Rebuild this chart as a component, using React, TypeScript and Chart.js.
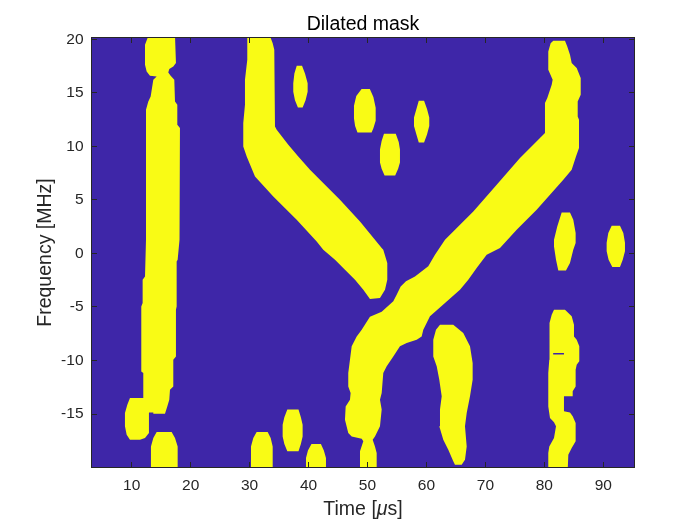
import { useEffect, useRef } from 'react';
import { Chart, registerables } from 'chart.js';

Chart.register(...registerables);

type Pt = [number, number];

// axis setup
const titleText = 'Dilated mask';
const yLabelText = 'Frequency [MHz]';
const xTicks = [10, 20, 30, 40, 50, 60, 70, 80, 90];
const yTicks = [-15, -10, -5, 0, 5, 10, 15, 20];
const xLimits: [number, number] = [3.27, 95.21];
const yLimits: [number, number] = [-19.95, 20.12];

// mask regions (outlines in Time [us] / Frequency [MHz])
const leftStrip: Pt[] = [
  [12.82, 20.3], [17.35, 20.3], [17.51, 19.64], [17.51, 17.78], [17.06, 17.46], [16.38, 17.22],
  [16.21, 16.9], [16.61, 16.59], [17.23, 16.22], [17.35, 14.19], [17.74, 13.88], [17.74, 12.02],
  [18.19, 11.71], [18.19, 7.51], [18.08, 7.19], [18.08, 1.28], [17.8, -0.59], [17.63, -0.75],
  [17.63, -4.95], [17.51, -5.26], [17.51, -9.62], [17.06, -9.93], [17.06, -12.42], [16.5, -12.73],
  [16.38, -13.66], [16.04, -14.29], [15.65, -14.97], [13.67, -14.97], [13.67, -14.85], [12.93, -14.85],
  [12.93, -16.77], [12.26, -17.24], [11.41, -17.4], [9.71, -17.4], [9.15, -16.93], [8.86, -16.15],
  [8.86, -14.9], [9.26, -14.13], [9.71, -13.5], [11.97, -13.5], [11.97, -11.17], [11.63, -11.02],
  [11.63, -4.95], [11.86, -4.63], [11.86, -2.45], [12.26, -2.15], [12.43, 1.28], [12.43, 13.41],
  [12.82, 14.19], [13.22, 14.66], [13.67, 16.22], [14.24, 16.53], [13.1, 16.59], [12.54, 16.99],
  [12.26, 17.62], [12.26, 19.49],
];
const blobBottom15: Pt[] = [
  [14.24, -16.67], [16.78, -16.67], [17.35, -17.24], [17.8, -18.03], [17.8, -20.3],
  [13.27, -20.3], [13.27, -18.03], [13.67, -17.24],
];
const blobBottom31: Pt[] = [
  [31.2, -16.67], [33.07, -16.67], [33.58, -17.24], [33.92, -18.03], [33.92, -20.3],
  [30.24, -20.3], [30.24, -18.03], [30.63, -17.24],
];
const leftDiagonal: Pt[] = [
  [29.61, 20.3], [33.46, 20.3], [33.92, 19.64], [34.19, 19.02], [34.31, 11.86], [34.6, 11.55],
  [36.57, 10.15], [38.26, 9.06], [40.25, 7.82], [41.94, 6.88], [45.33, 5.01], [48.73, 2.99],
  [52.41, 0.5], [52.68, 0.35], [53.36, -0.9], [53.36, -2.46], [52.97, -3.39], [52.12, -4.16],
  [50.42, -4.26], [49.29, -3.39], [47.88, -2.46], [46.18, -1.52], [44.49, -0.59], [42.5, 0.35],
  [41.38, 1.12], [37.99, 3.15], [34.02, 5.32], [30.92, 7.19], [29.51, 9.06], [28.93, 9.99],
  [28.93, 12.18], [29.22, 13.88], [29.22, 16.22], [29.61, 18.09],
];
const rightDiagonal: Pt[] = [
  [81.52, 19.86], [83.5, 19.86], [83.89, 19.33], [84.35, 18.55], [84.64, 17.78], [85.49, 17.31],
  [86.17, 16.38], [86.17, 14.82], [85.66, 14.19], [85.66, 12.79], [85.88, 12.48], [85.88, 9.84],
  [85.37, 9.06], [84.64, 7.82], [83.22, 6.88], [80.96, 5.48], [78.7, 4.08], [75.31, 2.21],
  [72.48, 0.5], [70.22, -0.12], [68.52, -1.37], [67.1, -2.46], [65.69, -3.39], [63.15, -4.63],
  [60.6, -5.88], [59.47, -7.12], [59.19, -7.75], [58.35, -8.06], [56.65, -8.37], [55.51, -8.68],
  [54.38, -9.62], [53.26, -10.55], [52.68, -11.17], [52.41, -13.04], [52.12, -13.66], [52.41, -14.59],
  [52.12, -16.15], [51.27, -17.09], [50.88, -17.4], [51.27, -18.03], [51.56, -18.65], [51.56, -20.3],
  [48.73, -20.3], [48.73, -18.49], [49.29, -17.55], [49.02, -17.3], [47.32, -17.09], [46.74, -16.77],
  [46.18, -15.53], [46.3, -14.29], [47.03, -13.66], [47.14, -13.04], [46.74, -12.42], [46.74, -11.17],
  [47.03, -9.93], [47.32, -8.68], [48.17, -7.75], [49.02, -7.12], [50.42, -5.91], [52.41, -5.44],
  [54.38, -4.48], [54.95, -3.86], [55.63, -3.08], [56.53, -2.61], [58.06, -2.15], [60.31, -1.21],
  [61.45, -0.12], [63.15, 1.28], [64.55, 2.05], [67.95, 3.92], [71.92, 6.41], [75.87, 8.91],
  [79.26, 10.77], [80.11, 11.24], [80.11, 14.04], [80.5, 14.51], [81.25, 15.75], [81.41, 16.22],
  [80.67, 17.15], [80.67, 18.86], [81.07, 19.64],
];
const blob64: Pt[] = [
  [62.3, -6.66], [64.55, -6.66], [66.25, -7.44], [67.39, -8.68], [67.84, -10.23], [67.84, -11.79],
  [67.39, -13.35], [66.83, -14.9], [66.54, -16.15], [66.83, -18.03], [66.54, -19.27], [65.98, -19.73],
  [64.84, -19.73], [64.55, -19.42], [63.71, -18.33], [62.86, -17.4], [62.18, -16.15], [62.3, -14.59],
  [62.59, -13.35], [62.18, -11.79], [61.74, -10.55], [61.16, -9.62], [61.16, -8.06], [61.62, -7.12],
];
const blob83: Pt[] = [
  [82.94, 3.83], [84.35, 3.83], [84.91, 3.15], [85.31, 1.9], [85.31, 0.97], [84.91, 0.35],
  [84.35, -0.9], [83.67, -1.59], [82.37, -1.59], [81.98, -0.59], [81.64, 0.65], [81.64, 1.28],
  [82.19, 2.52],
];
const blob92: Pt[] = [
  [91.42, 2.59], [92.83, 2.59], [93.4, 1.9], [93.68, 1.0], [93.68, 0.2], [93.3, -0.6],
  [92.83, -1.27], [91.53, -1.27], [90.9, -0.6], [90.57, 0.2], [90.57, 1.0], [90.85, 1.9],
];
const column83: Pt[] = [
  [81.64, -5.26], [83.5, -5.26], [84.64, -5.88], [85.03, -6.66], [85.03, -7.75], [85.49, -8.06],
  [85.93, -8.68], [85.93, -10.08], [85.49, -10.39], [85.31, -10.86], [85.31, -12.42], [84.81, -12.88],
  [84.81, -13.35], [83.33, -13.35], [83.33, -14.75], [84.35, -14.85], [84.81, -15.22], [85.31, -15.84],
  [85.31, -17.55], [84.64, -18.18], [84.07, -18.8], [83.96, -20.3], [80.67, -20.3], [80.67, -18.65],
  [80.84, -18.03], [81.64, -17.24], [81.98, -16.15], [81.64, -15.78], [80.96, -15.37], [80.67, -14.29],
  [80.67, -11.17], [80.84, -9.93], [80.96, -9.0], [80.84, -8.06], [80.84, -6.5], [81.25, -5.72],
];
const blob38a: Pt[] = [
  [38.0, 17.53], [38.9, 17.53], [39.4, 16.8], [39.85, 15.9], [39.85, 15.1], [39.5, 14.3],
  [39.0, 13.63], [38.2, 13.63], [37.7, 14.3], [37.41, 15.1], [37.41, 15.9], [37.6, 16.8],
];
const blob49: Pt[] = [
  [49.0, 15.35], [50.4, 15.35], [51.0, 14.6], [51.39, 13.6], [51.39, 12.4], [51.0, 11.7],
  [50.7, 11.3], [48.3, 11.3], [47.9, 11.9], [47.71, 12.6], [47.71, 13.8], [48.1, 14.7],
];
const blob54: Pt[] = [
  [52.8, 11.18], [54.8, 11.18], [55.3, 10.4], [55.51, 9.7], [55.51, 8.5], [55.2, 7.9],
  [54.7, 7.28], [52.9, 7.28], [52.4, 7.9], [52.12, 8.5], [52.12, 9.7], [52.4, 10.5],
];
const blob59: Pt[] = [
  [58.7, 14.26], [59.6, 14.26], [60.1, 13.5], [60.48, 12.7], [60.48, 11.9], [60.1, 11.1],
  [59.6, 10.36], [58.7, 10.36], [58.3, 11.1], [57.89, 11.9], [57.89, 12.7], [58.3, 13.5],
];
const blob37b: Pt[] = [
  [36.4, -14.59], [38.3, -14.59], [38.7, -15.3], [39.0, -16.0], [39.0, -17.1], [38.7, -17.8],
  [38.3, -18.49], [36.4, -18.49], [35.9, -17.8], [35.61, -17.1], [35.61, -16.0], [35.9, -15.3],
];
const blob41: Pt[] = [
  [40.5, -17.8], [42.1, -17.8], [42.6, -18.4], [42.96, -19.1], [42.96, -20.3], [39.57, -20.3],
  [39.57, -19.1], [39.9, -18.4],
];
const gapLine: Pt[] = [[81.5, -9.3], [83.33, -9.3], [83.33, -9.45], [81.5, -9.45]];

const yellowRegions: Pt[][] = [
  leftStrip, blobBottom15, blobBottom31, leftDiagonal, rightDiagonal, blob64, blob83, blob92,
  column83, blob38a, blob49, blob54, blob59, blob37b, blob41,
];

const BLUE = '#3e26a8';
const YELLOW = '#f9fb15';
const INK = '#262626';
const FAMILY = "'Liberation Sans', Arial, Helvetica, sans-serif";

const toXY = (pts: Pt[]) => pts.map(([x, y]) => ({ x, y }));

const region = (pts: Pt[], color: string) => ({
  data: toXY(pts),
  backgroundColor: color,
  borderColor: color,
  borderWidth: 0,
  pointRadius: 0,
  pointHoverRadius: 0,
  tension: 0,
  fill: 'shape' as const,
});

const imagePlugin = {
  id: 'imageBackground',
  beforeDatasetsDraw(chart: any) {
    const { ctx, chartArea } = chart;
    ctx.save();
    ctx.fillStyle = BLUE;
    ctx.fillRect(chartArea.left, chartArea.top, chartArea.right - chartArea.left, chartArea.bottom - chartArea.top);
    ctx.restore();
  },
};

const framePlugin = {
  id: 'matlabFrame',
  afterDatasetsDraw(chart: any) {
    const { ctx, chartArea } = chart;
    const { left, right, top, bottom } = chartArea;
    const xs = chart.scales.x;
    const ys = chart.scales.y;
    const len = 5;
    ctx.save();
    ctx.strokeStyle = INK;
    ctx.lineWidth = 1;
    ctx.beginPath();
    xTicks.forEach((v) => {
      const p = Math.floor(xs.getPixelForValue(v)) + 0.5;
      ctx.moveTo(p, bottom);
      ctx.lineTo(p, bottom - len);
      ctx.moveTo(p, top);
      ctx.lineTo(p, top + len);
    });
    yTicks.forEach((v) => {
      const p = Math.floor(ys.getPixelForValue(v)) + 0.5;
      ctx.moveTo(left, p);
      ctx.lineTo(left + len, p);
      ctx.moveTo(right, p);
      ctx.lineTo(right - len, p);
    });
    ctx.stroke();
    ctx.strokeRect(left - 0.5, top - 0.5, right - left + 1, bottom - top + 1);
    ctx.restore();
  },
};

const textPlugin = {
  id: 'matlabText',
  afterDraw(chart: any) {
    const { ctx, chartArea } = chart;
    const cx = (chartArea.left + chartArea.right) / 2;
    ctx.save();
    // title
    ctx.font = `19.5px ${FAMILY}`;
    ctx.fillStyle = '#000000';
    ctx.textAlign = 'center';
    ctx.textBaseline = 'middle';
    ctx.fillText(titleText, cx, chartArea.top - 13.3);
    // x label with italic mu
    const normal = `19.5px ${FAMILY}`;
    const italic = `italic 19.5px ${FAMILY}`;
    const parts: [string, string][] = [['Time [', normal], ['\u03bc', italic], ['s]', normal]];
    let total = 0;
    const widths = parts.map(([t, f]) => {
      ctx.font = f;
      const w = ctx.measureText(t).width;
      total += w;
      return w;
    });
    let x = cx - total / 2;
    const y = chart.height - 10;
    ctx.fillStyle = INK;
    ctx.textBaseline = 'alphabetic';
    ctx.textAlign = 'left';
    parts.forEach(([t, f], i) => {
      ctx.font = f;
      ctx.fillText(t, x, y);
      x += widths[i];
    });
    ctx.restore();
  },
};

export default function App() {
  const canvasRef = useRef<HTMLCanvasElement | null>(null);

  useEffect(() => {
    const canvas = canvasRef.current;
    if (!canvas) return;
    const chart = new Chart(canvas, {
      type: 'line',
      data: {
        datasets: [region(gapLine, BLUE), ...yellowRegions.map((r) => region(r, YELLOW))],
      } as any,
      options: {
        responsive: false,
        animation: false,
        events: [],
        layout: { padding: { left: 0, right: 66, top: 38, bottom: 0 } },
        plugins: {
          legend: { display: false },
          tooltip: { enabled: false },
          title: { display: false },
        },
        scales: {
          x: {
            type: 'linear',
            min: xLimits[0],
            max: xLimits[1],
            grid: { display: false, drawTicks: false },
            border: { display: false },
            afterBuildTicks: (axis: any) => {
              axis.ticks = xTicks.map((value) => ({ value }));
            },
            afterFit: (axis: any) => {
              axis.height = 58;
            },
            ticks: {
              autoSkip: false,
              maxRotation: 0,
              padding: 9.5,
              color: INK,
              font: { family: FAMILY, size: 15.5 },
              callback: (v: any) => String(v),
            },
          },
          y: {
            type: 'linear',
            min: yLimits[0],
            max: yLimits[1],
            grid: { display: false, drawTicks: false },
            border: { display: false },
            afterBuildTicks: (axis: any) => {
              axis.ticks = yTicks.map((value) => ({ value }));
            },
            afterFit: (axis: any) => {
              axis.width = 92;
            },
            title: {
              display: true,
              text: yLabelText,
              color: INK,
              font: { family: FAMILY, size: 19.5, lineHeight: '24px' },
              padding: { top: 33.3, bottom: 0 },
            },
            ticks: {
              autoSkip: false,
              padding: 8.5,
              color: INK,
              font: { family: FAMILY, size: 15.5 },
              callback: (v: any) => String(v),
            },
          },
        },
      } as any,
      plugins: [imagePlugin, framePlugin, textPlugin],
    });
    return () => chart.destroy();
  }, []);

  return (
    <div style={{ position: 'absolute', left: 0, top: 0, width: 700, height: 525, background: '#ffffff' }}>
      <canvas ref={canvasRef} width={700} height={525} style={{ display: 'block' }} />
    </div>
  );
}
